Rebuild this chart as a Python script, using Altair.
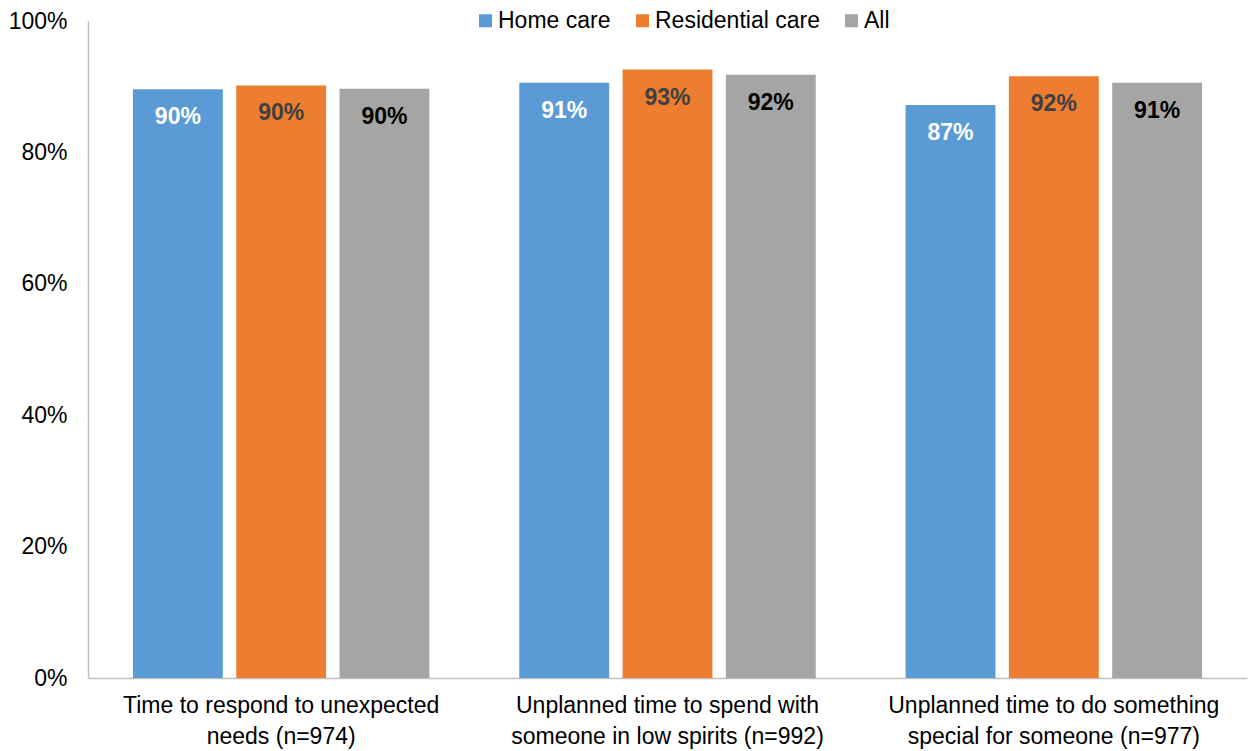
import altair as alt
import pandas as pd

categories = [
    "Time to respond to unexpected|needs (n=974)",
    "Unplanned time to spend with|someone in low spirits (n=992)",
    "Unplanned time to do something|special for someone (n=977)",
]
series = ["Home care", "Residential care", "All"]
home_care = [0.896, 0.906, 0.872]
residential_care = [0.902, 0.926, 0.916]
all_values = [0.897, 0.918, 0.906]

colors = ["#5B9BD5", "#ED7D31", "#A5A5A5"]
label_colors = ["#FFFFFF", "#404040", "#000000"]

rows = []
for s, vals, lc in zip(series, [home_care, residential_care, all_values], label_colors):
    for c, v in zip(categories, vals):
        rows.append({"category": c, "series": s, "value": v, "lc": lc})
df = pd.DataFrame(rows)

FONT = "Liberation Sans"

x = alt.X("category:N", sort=categories, title=None,
          scale=alt.Scale(paddingInner=0, paddingOuter=0),
          axis=alt.Axis(labelExpr="split(datum.label, '|')", labelAngle=0,
                        labelFontSize=23, labelFont=FONT, labelColor="#000000",
                        labelLineHeight=31, labelPadding=16, ticks=False,
                        domainColor="#BFBFBF", domainWidth=1.5, labelLimit=0))
xo = alt.XOffset("series:N", sort=series,
                 scale=alt.Scale(domain=series, paddingInner=0.13, paddingOuter=0.435))
y = alt.Y("value:Q", title=None,
          scale=alt.Scale(domain=[0, 1], nice=False),
          axis=alt.Axis(values=[0, 0.2, 0.4, 0.6, 0.8, 1.0], format=".0%", grid=False,
                        ticks=False, labelFontSize=23, labelFont=FONT, labelColor="#000000",
                        labelPadding=21, domainColor="#BFBFBF", domainWidth=1.5))

bars = alt.Chart(df).mark_bar().encode(
    x=x, xOffset=xo, y=y,
    color=alt.Color("series:N", sort=series,
                    scale=alt.Scale(domain=series, range=colors),
                    legend=alt.Legend(title=None, orient="none", direction="horizontal",
                                      legendX=386, legendY=-12,
                                      symbolType="square", symbolSize=169,
                                      symbolStrokeWidth=0, labelFontSize=23,
                                      labelFont=FONT, labelColor="#000000",
                                      labelOffset=1, columnPadding=20,
                                      labelLimit=0)),
)

labels = alt.Chart(df).mark_text(fontWeight="bold", fontSize=23, font=FONT,
                                 baseline="middle", dy=28).encode(
    x=x, xOffset=xo, y=y,
    text=alt.Text("value:Q", format=".0%"),
    color=alt.Color("lc:N", scale=None),
)

chart = alt.layer(bars, labels).properties(
    width=1159, height=657,
    view=alt.ViewBackground(strokeWidth=0, stroke="transparent"),
    autosize=alt.AutoSizeParams(type="none"),
    padding={"left": 88, "top": 21, "right": 1, "bottom": 73},
).configure_view(strokeWidth=0, stroke="transparent").configure(background="white")

chart.save("out.html", embed_options={"renderer": "svg", "actions": False})
